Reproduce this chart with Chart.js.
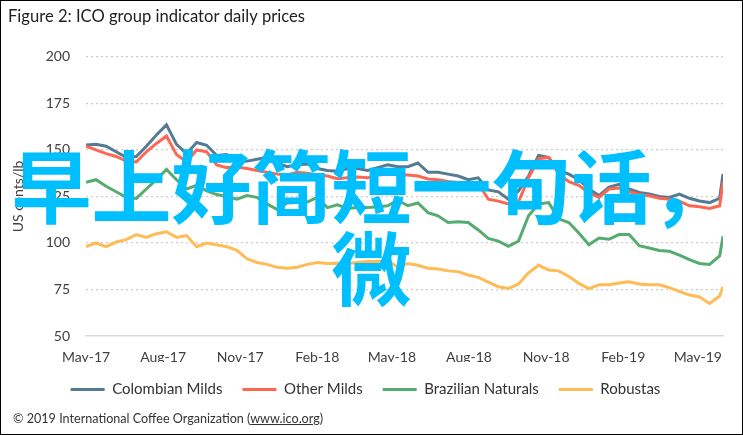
<!DOCTYPE html>
<html>
<head>
<meta charset="utf-8">
<script src="https://cdn.jsdelivr.net/npm/chart.js@4.4.1/dist/chart.umd.min.js"></script>
<style>
  html, body { margin: 0; padding: 0; background: #fff; }
  #wrap { position: relative; width: 743px; height: 435px; overflow: hidden; font-family: Lato, sans-serif; }
  #chart { position: absolute; left: 0; top: 0; }
  #frame { position: absolute; left: 0; top: 0; width: 743px; height: 435px; box-sizing: border-box; border: 1px solid #000; pointer-events: none; }
  #source { position: absolute; left: 13px; top: 411px; font-size: 12.6px; color: #333; white-space: nowrap; }
  #source span { text-decoration: underline; }
  #mark { position: absolute; left: 0; top: 141px; width: 743px; text-align: center; font-family: "Noto Sans CJK SC", sans-serif; font-weight: bold; font-size: 80px; line-height: 82px; color: #00bfff; }
</style>
</head>
<body>
<div id="wrap">
  <canvas id="chart" width="743" height="435"></canvas>
  <div id="source">© 2019 International Coffee Organization (<span>www.ico.org</span>)</div>
  <div id="mark">早上好简短一句话，微</div>
  <div id="frame"></div>
</div>
<script>
const dates = ['2017-05-01', '2017-05-13', '2017-05-25', '2017-06-06', '2017-06-18', '2017-06-30', '2017-07-12', '2017-07-24',
  '2017-08-05', '2017-08-17', '2017-08-29', '2017-09-10', '2017-09-22', '2017-10-04', '2017-10-16', '2017-10-28',
  '2017-11-09', '2017-11-21', '2017-12-03', '2017-12-15', '2017-12-27', '2018-01-08', '2018-01-20', '2018-02-01',
  '2018-02-13', '2018-02-25', '2018-03-09', '2018-03-21', '2018-04-02', '2018-04-14', '2018-04-26', '2018-05-08',
  '2018-05-20', '2018-06-01', '2018-06-13', '2018-06-25', '2018-07-07', '2018-07-19', '2018-07-31', '2018-08-12',
  '2018-08-24', '2018-09-05', '2018-09-17', '2018-09-29', '2018-10-11', '2018-10-23', '2018-11-04', '2018-11-16',
  '2018-11-28', '2018-12-10', '2018-12-22', '2019-01-03', '2019-01-15', '2019-01-27', '2019-02-08', '2019-02-20',
  '2019-03-04', '2019-03-16', '2019-03-28', '2019-04-09', '2019-04-21', '2019-05-03', '2019-05-15', '2019-05-27',
  '2019-05-31'];

const colombianMilds = [152.7, 153, 152, 149, 146, 146.5, 152, 158, 163.5, 153, 148, 154, 152.5, 147, 147.5, 143.5,
  144, 145, 146, 143, 141, 142, 142.5, 140, 139, 138.5, 140, 140, 139, 140.5, 142, 141,
  141, 143, 138, 138, 137, 136, 134, 135, 128.5, 127.5, 123.5, 128, 136, 147, 146, 139,
  137, 134, 129, 125.5, 130, 131.5, 129, 127.2, 126.3, 125, 124.5, 126.3, 124, 122.6, 121.7, 124,
  137.1];
const otherMilds = [152, 150, 148, 146.5, 144, 143.5, 149, 153.5, 157.5, 147.5, 143.5, 150, 149, 142, 140.5, 140.8,
  140, 139, 138, 137, 136.5, 138, 137.5, 136.6, 136, 134.5, 135, 135.5, 135, 136.5, 137, 137,
  136.5, 136, 134.4, 134, 133, 132.5, 132, 132, 123.5, 122.5, 121, 122, 135, 145.3, 146, 137,
  133, 131, 127, 124.5, 129, 129.5, 127.5, 126, 125.4, 124, 123.5, 122.5, 120, 119.5, 118.5, 120,
  132.6];
const brazilianNaturals = [132.6, 134, 130.5, 127.5, 124.5, 124, 129, 134, 139.5, 134, 129, 131, 128, 126, 125, 123.5,
  125.5, 124.5, 121, 118, 121.5, 121.7, 122, 124.5, 119, 120.5, 118.5, 119, 119, 119.5, 120, 123,
  120, 121.5, 116.3, 114.6, 111, 111.4, 111, 107, 102.5, 101, 98.2, 101, 114.6, 121, 121.7, 113,
  111, 105.4, 99.1, 102.7, 102, 104.5, 104.5, 98.5, 97.3, 96, 95.5, 93.5, 91, 89, 88.5, 93,
  103.6];
const robustas = [98, 100, 98, 100.5, 101.8, 104.5, 103, 105, 106, 103, 104, 98, 100, 99, 98, 96,
  91.5, 89.5, 88.5, 87, 86.4, 87, 88.5, 89.5, 89, 89.1, 89, 89.5, 90, 90, 90.5, 87,
  89, 88, 86.4, 86, 85, 84.6, 82.8, 81.5, 79, 76.5, 75.5, 78, 84, 88, 85.5, 85,
  82, 78.3, 75.5, 77.5, 77.5, 78.5, 79.2, 78, 77.5, 77.5, 76, 74, 72, 71, 67.5, 71.5,
  76.5];

const tickDates = ['2017-05-01', '2017-08-01', '2017-11-01', '2018-02-01', '2018-05-01', '2018-08-01', '2018-11-01', '2019-02-01', '2019-05-01'];
const tickLabels = ['May-17', 'Aug-17', 'Nov-17', 'Feb-18', 'May-18', 'Aug-18', 'Nov-18', 'Feb-19', 'May-19'];

const start = Date.UTC(2017, 4, 1);
function dayOf(s) {
    const [y, m, d] = s.split('-').map(Number);
    return (Date.UTC(y, m - 1, d) - start) / 86400000;
}
const days = dates.map(dayOf);
const tickDays = tickDates.map(dayOf);

function series(label, values, color, order) {
    return {
        label: label,
        data: values.map((v, i) => ({ x: days[i], y: v })),
        borderColor: color,
        backgroundColor: color,
        // used by the legend's line marker
        pointBorderColor: color,
        pointBackgroundColor: color,
        pointBorderWidth: 3,
        order: order
    };
}

const textColor = '#404040';
const font = 'Lato';

new Chart(document.getElementById('chart'), {
    type: 'line',
    data: {
        datasets: [
            series('Colombian Milds', colombianMilds, '#557b93', 3),
            series('Other Milds', otherMilds, '#ff6652', 2),
            series('Brazilian Naturals', brazilianNaturals, '#56ab70', 1),
            series('Robustas', robustas, '#ffbb55', 0)
        ]
    },
    options: {
        responsive: false,
        animation: false,
        layout: { padding: { left: 8, right: 20, top: 7, bottom: 28 } },
        elements: {
            point: { radius: 0 },
            line: { borderWidth: 3, tension: 0 }
        },
        plugins: {
            title: {
                display: true,
                text: 'Figure 2: ICO group indicator daily prices',
                align: 'start',
                color: '#222',
                font: { family: font, size: 16.6, weight: 'normal' },
                padding: { top: 0, bottom: 30 }
            },
            legend: {
                position: 'bottom',
                labels: {
                    usePointStyle: true,
                    pointStyle: 'line',
                    pointStyleWidth: 34,
                    boxHeight: 3,
                    color: '#333',
                    font: { family: font, size: 15 },
                    padding: 20,
                    sort: (a, b) => a.datasetIndex - b.datasetIndex
                }
            },
            tooltip: { enabled: false }
        },
        scales: {
            x: {
                type: 'linear',
                min: 0,
                max: dayOf('2019-05-31'),
                afterBuildTicks: function(scale) {
                    scale.ticks = tickDays.map(v => ({ value: v }));
                },
                afterFit: function(scale) {
                    scale.height = 26;
                },
                ticks: {
                    autoSkip: false,
                    maxRotation: 0,
                    padding: 13,
                    color: textColor,
                    font: { family: font, size: 14 },
                    callback: function(value) {
                        return tickLabels[tickDays.indexOf(value)];
                    }
                },
                grid: { display: false, drawTicks: false },
                border: { display: true, color: '#d9d9d9', width: 1.5 }
            },
            y: {
                min: 50,
                max: 200,
                afterFit: function(scale) {
                    scale.width = 78;
                },
                ticks: {
                    stepSize: 25,
                    padding: 16,
                    color: textColor,
                    font: { family: font, size: 14 }
                },
                grid: {
                    drawTicks: false,
                    lineWidth: 1.2,
                    color: ctx => (ctx.tick && ctx.tick.value === 50) ? 'rgba(0,0,0,0)' : '#cccccc'
                },
                border: { display: false, dash: [2, 3] },
                title: {
                    display: true,
                    text: 'US cents/lb',
                    color: textColor,
                    font: { family: font, size: 14 },
                    padding: { top: 2, bottom: 0 }
                }
            }
        }
    }
});
</script>
</body>
</html>
